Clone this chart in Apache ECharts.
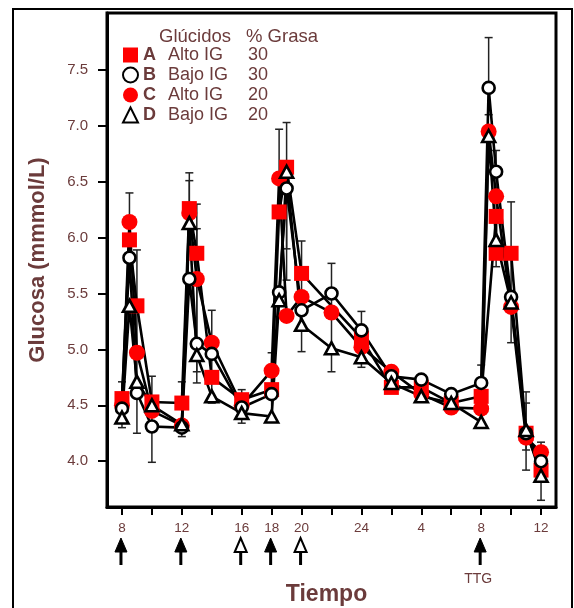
<!DOCTYPE html>
<html>
<head>
<meta charset="utf-8">
<style>
  html, body { margin: 0; padding: 0; background: #fff; }
  #main { width: 574px; height: 608px; }
</style>
<script src="https://cdn.jsdelivr.net/npm/echarts@6/dist/echarts.min.js"></script>
</head>
<body>
<div id="main"></div>
<script>
// sampling times in hours (8 = 8h day 1 ... 36 = 12h day 2)
const hours = [8, 8.5, 9, 10, 12, 12.5, 13, 14, 16, 18, 18.5, 19, 20, 22, 24, 26, 28, 30, 32, 32.5, 33, 34, 35, 36]
const hoursA = [8, 8.5, 9, 10, 12, 12.5, 13, 14, 16, 18, 18.5, 19, 20, 24, 26, 28, 30, 32, 33, 33, 34, 35, 36]

// glucose, mmol/L
const serieA = [4.56, 5.98, 5.39, 4.53, 4.52, 6.26, 5.86, 4.75, 4.55, 4.64, 6.23, 6.63, 5.68, 5.10, 4.66, 4.66, 4.52, 4.58, 6.19, 5.86, 5.86, 4.25, 3.92]
const serieB = [4.47, 5.82, 4.61, 4.31, 4.30, 5.63, 5.05, 4.96, 4.48, 4.60, 5.51, 6.44, 5.35, 5.50, 5.17, 4.76, 4.73, 4.60, 4.70, 7.34, 6.59, 5.47, 4.25, 4.00]
const serieC = [4.50, 6.14, 4.97, 4.45, 4.32, 6.22, 5.63, 5.06, 4.50, 4.81, 6.53, 5.30, 5.47, 5.33, 5.02, 4.80, 4.60, 4.48, 4.47, 6.95, 6.37, 5.38, 4.21, 4.08]
const serieD = [4.39, 5.39, 4.71, 4.50, 4.33, 6.13, 4.95, 4.58, 4.43, 4.40, 5.44, 6.59, 5.22, 5.01, 4.93, 4.70, 4.58, 4.52, 4.35, 6.91, 5.98, 5.42, 4.28, 3.87]

// error bars
const errHours = [8, 8.5, 9, 10, 12, 12.5, 12.5, 13, 13, 14, 16, 18, 18.5, 19, 19, 20, 22, 24, 32, 32.5, 33, 34, 35, 35, 36]
const errLow = [4.30, 6.00, 4.25, 3.99, 4.22, 6.10, 6.10, 4.70, 4.80, 4.52, 4.34, 4.40, 6.20, 5.62, 5.90, 4.98, 4.80, 4.84, 4.35, 7.10, 5.74, 5.06, 3.92, 4.10, 3.65]
const errHigh = [4.71, 6.40, 5.89, 4.76, 4.71, 6.51, 6.58, 6.30, 6.08, 5.35, 4.64, 4.97, 6.97, 7.03, 6.40, 5.97, 5.77, 5.34, 4.86, 7.79, 6.78, 6.32, 4.62, 4.52, 4.17]

// axis ticks and labels
const tickHours = [8, 10, 12, 14, 16, 18, 20, 22, 24, 26, 28, 30, 32, 34, 36]
const labelHours = [8, 12, 16, 18, 20, 24, 28, 32, 36]
const labelTexts = ['8', '12', '16', '18', '20', '24', '4', '8', '12']
const yTicks = [4.0, 4.5, 5.0, 5.5, 6.0, 6.5, 7.0, 7.5]

// meal / test arrows: 1 = filled, 0 = open
const arrowHours = [8, 12, 16, 18, 20, 32]
const arrowFilled = [1, 1, 0, 1, 0, 1]
const arrowLabels = ['', '', '', '', '', 'TTG']

// legend
const legendNames = ['A', 'B', 'C', 'D']
const legendCarbs = ['Alto IG', 'Bajo IG', 'Alto IG', 'Bajo IG']
const legendFat = ['30', '30', '20', '20']

const brown = '#6b3b3b'
const font = 'Liberation Sans, Arial, sans-serif'
const yMin = 3.59
const yMax = 8.01

const chart = echarts.init(document.getElementById('main'))

function pairs(xs, ys) {
  return xs.map((x, i) => [x, ys[i]])
}

const looks = {
  A: { data: pairs(hoursA, serieA), symbol: 'rect', size: 15, style: { color: '#ff0000', opacity: 1 } },
  B: { data: pairs(hours, serieB), symbol: 'circle', size: 12, style: { color: '#fff', borderColor: '#000', borderWidth: 2.6, opacity: 1 } },
  C: { data: pairs(hours, serieC), symbol: 'circle', size: 16, style: { color: '#ff0000', opacity: 1 } },
  D: { data: pairs(hours, serieD), symbol: 'triangle', size: [13, 12], style: { color: '#fff', borderColor: '#000', borderWidth: 2.6, opacity: 1 } }
}

const series = []
// error bars under everything
series.push({
  type: 'custom',
  coordinateSystem: 'cartesian2d',
  z: 1,
  silent: true,
  data: errHours.map((h, i) => [h, errLow[i], errHigh[i]]),
  renderItem(params, api) {
    const x = api.value(0)
    const lo = api.coord([x, api.value(1)])
    const hi = api.coord([x, api.value(2)])
    const w = 4
    const st = { stroke: '#222', lineWidth: 1.5 }
    return {
      type: 'group',
      children: [
        { type: 'line', shape: { x1: lo[0], y1: lo[1], x2: hi[0], y2: hi[1] }, style: st },
        { type: 'line', shape: { x1: lo[0] - w, y1: lo[1], x2: lo[0] + w, y2: lo[1] }, style: st },
        { type: 'line', shape: { x1: hi[0] - w, y1: hi[1], x2: hi[0] + w, y2: hi[1] }, style: st }
      ]
    }
  }
})
// connecting lines
;['A', 'B', 'C', 'D'].forEach(k => {
  series.push({
    name: k + '-line',
    type: 'line',
    z: 2,
    symbol: 'none',
    data: looks[k].data,
    lineStyle: { color: '#000', width: 2.6 }
  })
})
// markers, drawing order A, C, B, D
;['A', 'C', 'B', 'D'].forEach(k => {
  series.push({
    name: k,
    type: 'scatter',
    z: 3,
    symbol: looks[k].symbol,
    symbolSize: looks[k].size,
    itemStyle: looks[k].style,
    data: looks[k].data
  })
})
// arrows under the time axis
series.push({
  type: 'custom',
  coordinateSystem: 'cartesian2d',
  clip: false,
  silent: true,
  z: 4,
  data: arrowHours.map((h, i) => [h, arrowFilled[i]]),
  renderItem(params, api) {
    const p = api.coord([api.value(0), yMin])
    const x = p[0] - 1
    const top = p[1] + 31
    const filled = api.value(1) === 1
    const children = [
      { type: 'rect', shape: { x: x - 1.5, y: top + 13, width: 3, height: 14 }, style: { fill: '#000' } },
      {
        type: 'polygon',
        shape: { points: [[x, top], [x - 6, top + 14], [x + 6, top + 14]] },
        style: { fill: filled ? '#000' : '#fff', stroke: '#000', lineWidth: filled ? 1 : 2 }
      }
    ]
    const lab = arrowLabels[params.dataIndex]
    if (lab) {
      children.push({
        type: 'text',
        style: { text: lab, x: x - 2, y: top + 41, align: 'center', verticalAlign: 'middle', fill: brown, font: '14px ' + font }
      })
    }
    return { type: 'group', children }
  }
})

chart.setOption({
  animation: false,
  backgroundColor: '#fff',
  grid: {
    left: 107, top: 13, width: 449, height: 494,
    outerBoundsMode: 'none',
    containLabel: false,
    show: true, borderColor: '#000', borderWidth: 3
  },
  xAxis: {
    type: 'value',
    min: 7, max: 37,
    name: 'Tiempo',
    nameLocation: 'middle',
    nameGap: 76,
    nameTextStyle: { color: brown, fontFamily: font, fontSize: 23, fontWeight: 'bold', padding: [0, 10, 0, 0] },
    splitLine: { show: false },
    axisLine: { lineStyle: { color: '#000', width: 3 } },
    axisTick: { customValues: tickHours, length: 8, lineStyle: { color: '#000', width: 2 } },
    axisLabel: {
      customValues: labelHours,
      margin: 14,
      color: brown, fontFamily: font, fontSize: 13.5,
      formatter: v => labelTexts[labelHours.indexOf(v)]
    }
  },
  yAxis: {
    type: 'value',
    min: yMin, max: yMax,
    name: 'Glucosa (mmmol/L)',
    nameLocation: 'middle',
    nameGap: 58,
    nameTextStyle: { color: brown, fontFamily: font, fontSize: 22, fontWeight: 'bold' },
    splitLine: { show: false },
    axisLine: { show: true, lineStyle: { color: '#000', width: 3 } },
    axisTick: { customValues: yTicks, length: 9, lineStyle: { color: '#000', width: 2 } },
    axisLabel: {
      customValues: yTicks,
      margin: 19,
      color: brown, fontFamily: font, fontSize: 15,
      formatter: v => v.toFixed(1)
    }
  },
  legend: {
    data: legendNames,
    orient: 'vertical',
    left: 117, top: 41,
    itemWidth: 15, itemHeight: 15, itemGap: 2,
    selectedMode: false,
    itemStyle: { opacity: 1 },
    formatter: name => {
      const i = legendNames.indexOf(name)
      return '{l|' + name + '}{n|' + legendCarbs[i] + '}{p|' + legendFat[i] + '}'
    },
    textStyle: {
      color: brown, fontFamily: font, fontSize: 18,
      rich: {
        l: { fontWeight: 'bold', width: 25, fontSize: 18, color: brown, fontFamily: font },
        n: { width: 80, fontSize: 18, color: brown, fontFamily: font },
        p: { fontSize: 18, color: brown, fontFamily: font }
      }
    }
  },
  graphic: [
    { type: 'rect', z: -10, shape: { x: 13, y: 9, width: 559, height: 640 }, style: { fill: 'none', stroke: '#000', lineWidth: 2 } },
    { type: 'text', left: 159, top: 27, style: { text: 'Glúcidos', fill: brown, font: '18.5px ' + font } },
    { type: 'text', left: 246, top: 27, style: { text: '% Grasa', fill: brown, font: '18.5px ' + font } }
  ],
  series
})
</script>
</body>
</html>
